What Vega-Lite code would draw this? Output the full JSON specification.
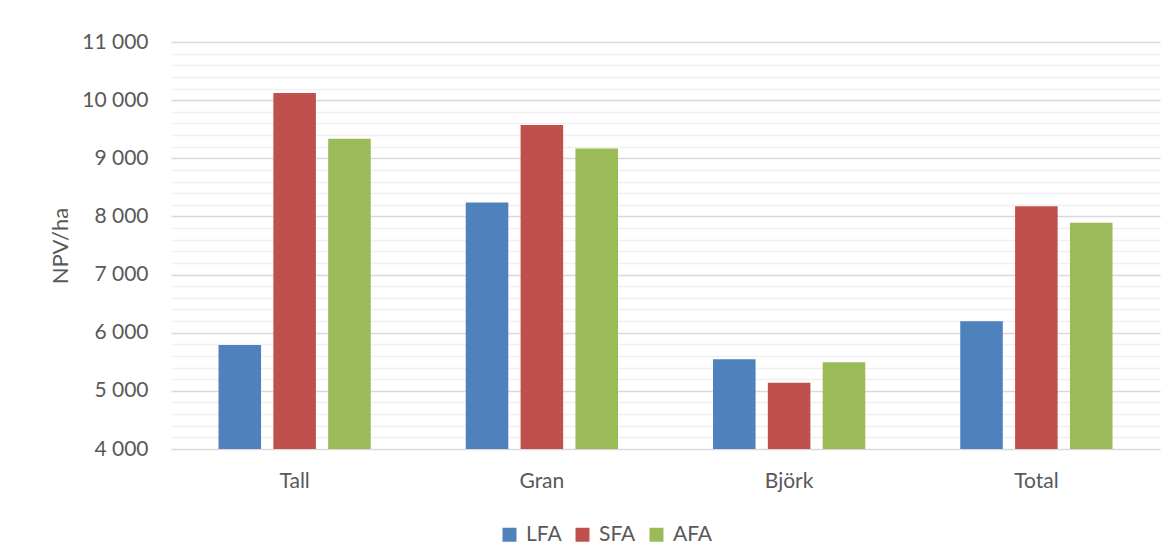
{
  "$schema": "https://vega.github.io/schema/vega-lite/v6.json",
  "width": 989,
  "height": 407,
  "autosize": {"type": "none"},
  "padding": {"left": 171, "top": 42, "right": 15, "bottom": 111},
  "background": "white",
  "config": {"view": {"stroke": null}, "font": "Lato"},
  "data": {
    "values": [
      {"art": "Tall", "metod": "LFA", "npv": 5790},
      {"art": "Tall", "metod": "SFA", "npv": 10122},
      {"art": "Tall", "metod": "AFA", "npv": 9336},
      {"art": "Gran", "metod": "LFA", "npv": 8239},
      {"art": "Gran", "metod": "SFA", "npv": 9571},
      {"art": "Gran", "metod": "AFA", "npv": 9169},
      {"art": "Björk", "metod": "LFA", "npv": 5544},
      {"art": "Björk", "metod": "SFA", "npv": 5141},
      {"art": "Björk", "metod": "AFA", "npv": 5492},
      {"art": "Total", "metod": "LFA", "npv": 6198},
      {"art": "Total", "metod": "SFA", "npv": 8177},
      {"art": "Total", "metod": "AFA", "npv": 7890}
    ]
  },
  "encoding": {
    "x": {
      "field": "art",
      "type": "nominal",
      "sort": ["Tall", "Gran", "Björk", "Total"],
      "scale": {"paddingInner": 0, "paddingOuter": 0},
      "axis": {
        "title": null,
        "labelAngle": 0,
        "domain": false,
        "ticks": false,
        "tickSize": 0,
        "labelPadding": 21.5,
        "labelFontSize": 21,
        "labelColor": "#595959",
        "labelFont": "Lato"
      }
    }
  },
  "layer": [
    {
      "mark": {"type": "bar", "opacity": 0, "clip": true},
      "encoding": {
        "y": {
          "field": "npv",
          "type": "quantitative",
          "scale": {"domain": [4000, 11000], "nice": false, "zero": false},
          "axis": {
            "orient": "left",
            "title": null,
            "labels": false,
            "ticks": false,
            "tickSize": 0,
            "domain": false,
            "grid": true,
            "gridColor": "#f0f0f0",
            "gridWidth": 1.5,
            "values": [4200, 4400, 4600, 4800, 5200, 5400, 5600, 5800, 6200, 6400, 6600, 6800, 7200, 7400, 7600, 7800, 8200, 8400, 8600, 8800, 9200, 9400, 9600, 9800, 10200, 10400, 10600, 10800]
          }
        }
      }
    },
    {
      "mark": {"type": "bar", "clip": true},
      "encoding": {
        "y": {
          "field": "npv",
          "type": "quantitative",
          "scale": {"domain": [4000, 11000], "nice": false, "zero": false},
          "axis": {
            "orient": "left",
            "title": "NPV/ha",
            "titleFont": "Lato",
            "titleFontSize": 22,
            "titleFontWeight": "normal",
            "titleColor": "#595959",
            "titleX": -111,
            "titleY": 203.5,
            "titleAngle": -90,
            "titleAlign": "center",
            "titleBaseline": "middle",
            "values": [4000, 5000, 6000, 7000, 8000, 9000, 10000, 11000],
            "labelExpr": "replace(format(datum.value, ','), ',', ' ')",
            "labelFont": "Lato",
            "labelFontSize": 21,
            "labelColor": "#595959",
            "labelPadding": 23,
            "ticks": false,
            "tickSize": 0,
            "domain": false,
            "grid": true,
            "gridColor": "#d9d9d9",
            "gridWidth": 1.5
          }
        },
        "xOffset": {
          "field": "metod",
          "sort": ["LFA", "SFA", "AFA"],
          "scale": {"paddingInner": 0.224, "paddingOuter": 0.866}
        },
        "color": {
          "field": "metod",
          "type": "nominal",
          "sort": ["LFA", "SFA", "AFA"],
          "scale": {"domain": ["LFA", "SFA", "AFA"], "range": ["#4f81bd", "#c0504d", "#9bbb59"]},
          "legend": {
            "orient": "none",
            "legendX": 328,
            "legendY": 482,
            "direction": "horizontal",
            "title": null,
            "symbolType": "square",
            "symbolSize": 196,
            "symbolStrokeWidth": 0,
            "labelFont": "Lato",
            "labelFontSize": 21,
            "labelColor": "#595959",
            "labelOffset": 6,
            "columnPadding": 10,
            "padding": 0
          }
        }
      }
    }
  ],
  "resolve": {"axis": {"y": "independent"}}
}
